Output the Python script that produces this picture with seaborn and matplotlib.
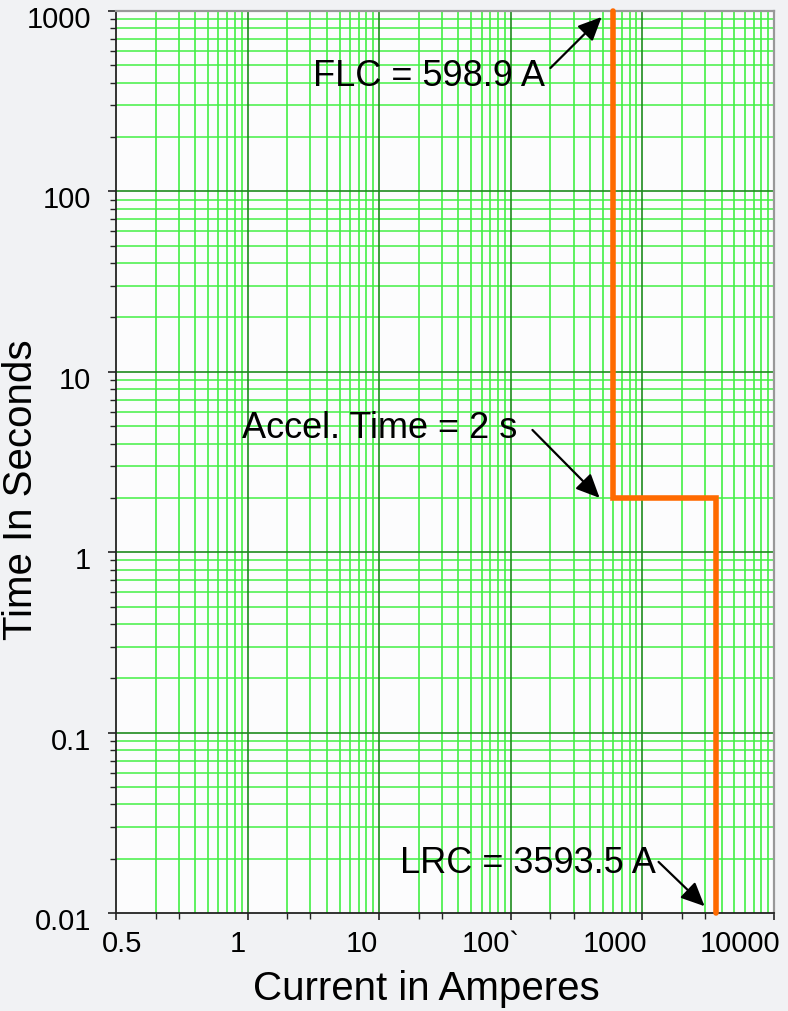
import numpy as np
import pandas as pd
import matplotlib
matplotlib.use("Agg")
import matplotlib.pyplot as plt
import matplotlib.transforms as mtransforms
from matplotlib.ticker import FixedLocator, NullFormatter
import seaborn as sns

# motor starting curve values
flc_amps = 598.9
lrc_amps = 3593.5
accel_time = 2
curve_current = [flc_amps, flc_amps, lrc_amps, lrc_amps]
curve_time = [1000, accel_time, accel_time, 0.01]

x_ticks = [0.1, 1, 10, 100, 1000, 10000]
x_tick_labels = ["0.5", "1", "10", "100`", "1000", "10000"]
y_ticks = [0.01, 0.1, 1, 10, 100, 1000]
y_tick_labels = ["0.01", "0.1", "1", "10", "100", "1000"]

# label offsets (px) to mimic the original placement
x_label_shift = [6, -10, -17, -20, -27, -34]

sns.set_theme(style="white")
plt.rcParams["font.family"] = ["Liberation Sans", "DejaVu Sans"]
plt.rcParams["text.color"] = "black"

fig = plt.figure(figsize=(7.88, 10.11), dpi=100, facecolor="#f1f2f4")
ax = fig.add_axes([116 / 788, 1 - 913 / 1011, 658 / 788, 902 / 1011])
ax.set_facecolor("#fcfcfd")

ax.set_xscale("log")
ax.set_yscale("log")
ax.set_xlim(x_ticks[0], x_ticks[-1])
ax.set_ylim(y_ticks[0], y_ticks[-1])

# grid lines
minor_x = [d * s for d in x_ticks[:-1] for s in range(2, 10)]
minor_y = [d * s for d in y_ticks[:-1] for s in range(2, 10)]
for v in minor_x:
    ax.axvline(v, color="#33ee33", lw=1.1, zorder=1)
for v in minor_y:
    ax.axhline(v, color="#44f044", lw=1.1, zorder=1)
for v in x_ticks[1:-1]:
    ax.axvline(v, color="#1e8a1e", lw=1.2, zorder=1.5)
for v in y_ticks[1:-1]:
    ax.axhline(v, color="#1e8a1e", lw=1.2, zorder=1.5)

# ticks
ax.xaxis.set_major_locator(FixedLocator(x_ticks))
ax.set_xticklabels(x_tick_labels)
ax.xaxis.set_minor_locator(FixedLocator([d * s for d in x_ticks[:-1] for s in (2, 3)]))
ax.xaxis.set_minor_formatter(NullFormatter())
ax.yaxis.set_major_locator(FixedLocator(y_ticks))
ax.set_yticklabels(y_tick_labels)
ax.yaxis.set_minor_locator(FixedLocator(minor_y))
ax.yaxis.set_minor_formatter(NullFormatter())

ax.tick_params(axis="x", which="major", bottom=True, length=5, width=1.2,
               color="#222222", labelsize=21, pad=7, labelcolor="black")
ax.tick_params(axis="x", which="minor", bottom=True, length=4, width=1.0, color="#222222")
ax.tick_params(axis="y", which="major", left=True, length=6, width=1.2,
               color="#222222", labelsize=21, pad=12, labelcolor="black")
ax.tick_params(axis="y", which="minor", left=True, length=4, width=1.0, color="#222222")

for lab, dx in zip(ax.get_xticklabels(), x_label_shift):
    lab.set_transform(lab.get_transform() +
                      mtransforms.ScaledTranslation(dx / 100, 0, fig.dpi_scale_trans))
for lab in ax.get_yticklabels():
    lab.set_transform(lab.get_transform() +
                      mtransforms.ScaledTranslation(0, -6 / 100, fig.dpi_scale_trans))

for side in ["left", "bottom"]:
    ax.spines[side].set_color("#222222")
    ax.spines[side].set_linewidth(1.3)
for side in ["top", "right"]:
    ax.spines[side].set_color("#999999")
    ax.spines[side].set_linewidth(1.6)

# the curve
df = pd.DataFrame({"current": curve_current, "time": curve_time})
sns.lineplot(data=df, x="current", y="time", sort=False, estimator=None, ax=ax,
             color="#ff6a00", lw=4, zorder=5, solid_joinstyle="miter", clip_on=False)

ax.set_xlabel("Current in Amperes", fontsize=29, color="black")
ax.set_ylabel("Time In Seconds", fontsize=29, color="black")
ax.xaxis.set_label_coords(0.471, -0.063)
ax.yaxis.set_label_coords(-0.115, 0.469)

# annotations
arrow = dict(arrowstyle="-|>,head_length=1.2,head_width=0.55", color="black", lw=1.6,
             shrinkA=0, shrinkB=0)
ax.text(181, 436, "FLC = 598.9 A", fontsize=26, ha="right", va="center", zorder=6)
ax.annotate("", xy=(490, 926), xytext=(200, 483), arrowprops=arrow, zorder=6)
ax.text(111, 4.85, "Accel. Time = 2 s", fontsize=26, ha="right", va="center", zorder=6)
ax.annotate("", xy=(473, 2.0), xytext=(146, 4.76), arrowprops=arrow, zorder=6)
ax.text(1259, 0.0187, "LRC = 3593.5 A", fontsize=26, ha="right", va="center", zorder=6)
ax.annotate("", xy=(2970, 0.0109), xytext=(1327, 0.0192), arrowprops=arrow, zorder=6)

fig.savefig("out.png", dpi=100, facecolor=fig.get_facecolor())
